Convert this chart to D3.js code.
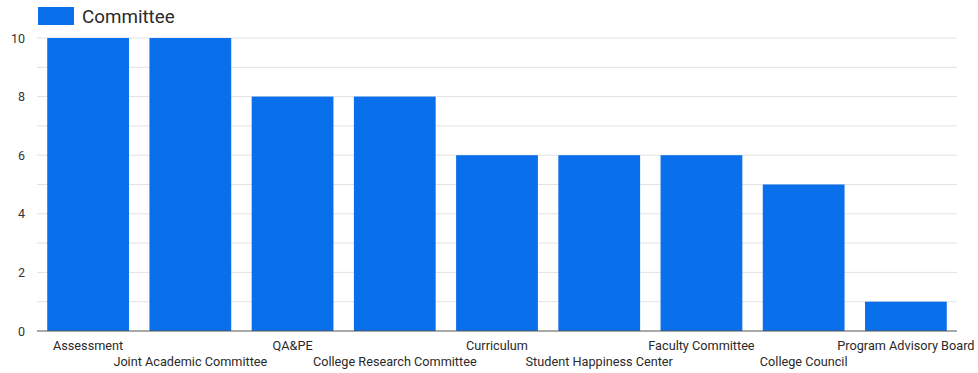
<!DOCTYPE html>
<html>
<head>
<meta charset="utf-8">
<script src="https://cdn.jsdelivr.net/npm/d3@7"></script>
<style>
  html, body { margin: 0; padding: 0; background: #fff; }
  svg { display: block; font-family: Roboto, "Noto Sans", sans-serif; }
</style>
</head>
<body>
<svg id="chart" width="978" height="373"></svg>
<script>
// Committee counts
const categories = [
  "Assessment", "Joint Academic Committee", "QA&PE", "College Research Committee",
  "Curriculum", "Student Happiness Center", "Faculty Committee", "College Council",
  "Program Advisory Board"
];
const committeeValues = [10, 10, 8, 8, 6, 6, 6, 5, 1];
const yTickValues = [0, 2, 4, 6, 8, 10];
const seriesName = "Committee";

const svg = d3.select("#chart");
const margin = { left: 37, right: 21, top: 38, bottom: 42 };
const W = 978, H = 373;
const barColor = "#0a6fea";

const x = d3.scaleBand()
  .domain(categories)
  .range([margin.left, W - margin.right])
  .paddingInner(0.2)
  .paddingOuter(0.1);

const y = d3.scaleLinear()
  .domain([0, 10])
  .range([H - margin.bottom, margin.top]);

// gridlines at every unit
svg.append("g")
  .selectAll("line")
  .data(d3.range(1, 11))
  .join("line")
  .attr("x1", margin.left).attr("x2", W - margin.right)
  .attr("y1", d => y(d)).attr("y2", d => y(d))
  .attr("stroke", "#e2e2e2").attr("stroke-width", 1);

// bars
svg.append("g")
  .selectAll("rect")
  .data(categories.map((c, i) => ({ c, v: committeeValues[i] })))
  .join("rect")
  .attr("x", d => x(d.c))
  .attr("width", x.bandwidth())
  .attr("y", d => y(d.v))
  .attr("height", d => y(0) - y(d.v))
  .attr("fill", barColor);

// baseline
svg.append("line")
  .attr("x1", margin.left).attr("x2", W - margin.right)
  .attr("y1", y(0)).attr("y2", y(0))
  .attr("stroke", "#555").attr("stroke-width", 1.2);

// y axis labels
const yAxis = d3.axisLeft(y).tickValues(yTickValues).tickSize(0).tickPadding(0);
const yg = svg.append("g").attr("transform", `translate(${margin.left - 12},0)`).call(yAxis);
yg.select(".domain").remove();
yg.selectAll("text")
  .attr("font-size", 12.5).attr("fill", "#333")
  .attr("font-family", "Roboto, sans-serif");

// x axis labels, staggered on two rows
const xAxis = d3.axisBottom(x).tickSize(0).tickPadding(0);
const xg = svg.append("g").attr("transform", `translate(0,${y(0)})`).call(xAxis);
xg.select(".domain").remove();
xg.selectAll("text")
  .attr("font-size", 12.7).attr("fill", "#2a2a2a")
  .attr("font-family", "Roboto, sans-serif")
  .attr("dy", null)
  .attr("y", (d, i) => i % 2 === 0 ? 19 : 35);

// legend
const lg = svg.append("g");
lg.append("rect").attr("x", 38).attr("y", 7).attr("width", 36).attr("height", 18).attr("fill", barColor);
lg.append("text").attr("x", 82).attr("y", 23)
  .attr("font-size", 18.8).attr("fill", "#2a2a2a")
  .text(seriesName);
</script>
</body>
</html>
